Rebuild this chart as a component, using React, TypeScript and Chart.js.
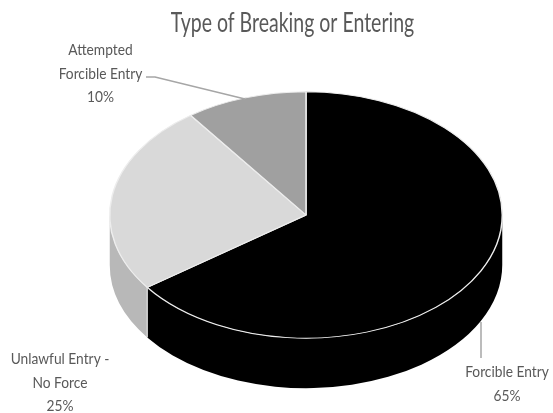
import React, { useEffect, useRef } from "react";
import { Chart, registerables } from "chart.js";

Chart.register(...registerables);

const titleText = "Type of Breaking or Entering";
const categories = ["Forcible Entry", "Unlawful Entry - No Force", "Attempted Forcible Entry"];
const values = [65, 25, 10];
const topColors = ["#000000", "#d9d9d9", "#a0a0a0"];
const sideColors = ["#000000", "#b8b8b8", "#7f7f7f"];

const labelLines = [
  ["Forcible Entry", "65%"],
  ["Unlawful Entry -", "No Force", "25%"],
  ["Attempted", "Forcible Entry", "10%"],
];
const labelAnchors = [
  { x: 507, y: 372 },
  { x: 60, y: 359 },
  { x: 100.5, y: 50 },
];
const leaders: { x: number; y: number }[][] = [
  [{ x: 481, y: 322 }, { x: 481, y: 358 }],
  [],
  [{ x: 146, y: 77 }, { x: 155, y: 77 }, { x: 245, y: 99 }],
];

const SQUASH = 123 / 196;
const DEPTH = 50;
const FONT = "Lato, 'Open Sans', sans-serif";

function squash(chart: any) {
  const arc = chart.getDatasetMeta(0).data[0];
  const { ctx } = chart;
  ctx.translate(arc.x, arc.y);
  ctx.scale(1, SQUASH);
  ctx.translate(-arc.x, -arc.y);
}

function narrowText(ctx: any, text: string, x: number, y: number, ratio: number) {
  ctx.fillText(text, x, y, ctx.measureText(text).width * ratio);
}

const pie3d = {
  id: "pie3d",
  beforeDatasetsDraw(chart: any) {
    const { ctx } = chart;
    const arcs = chart.getDatasetMeta(0).data;
    arcs.forEach((arc: any, i: number) => {
      const rx = arc.outerRadius;
      const ry = rx * SQUASH;
      for (const shift of [0, Math.PI * 2]) {
        const a = Math.max(arc.startAngle + shift, 0);
        const b = Math.min(arc.endAngle + shift, Math.PI);
        if (b <= a) continue;
        ctx.save();
        ctx.beginPath();
        ctx.ellipse(arc.x, arc.y, rx, ry, 0, a, b);
        ctx.ellipse(arc.x, arc.y + DEPTH, rx, ry, 0, b, a, true);
        ctx.closePath();
        ctx.fillStyle = sideColors[i];
        ctx.fill();
        if (i > 0) {
          ctx.strokeStyle = "#f2f2f2";
          ctx.lineWidth = 1;
          ctx.beginPath();
          ctx.moveTo(arc.x + rx * Math.cos(a), arc.y + ry * Math.sin(a));
          ctx.lineTo(arc.x + rx * Math.cos(a), arc.y + ry * Math.sin(a) + DEPTH);
          ctx.stroke();
        }
        ctx.restore();
      }
    });
    ctx.save();
    squash(chart);
  },
  afterDatasetsDraw(chart: any) {
    const { ctx } = chart;
    ctx.restore();
    ctx.save();
    ctx.strokeStyle = "#a6a6a6";
    ctx.lineWidth = 1.5;
    leaders.forEach((pts) => {
      if (!pts.length) return;
      ctx.beginPath();
      pts.forEach((p, i) => (i ? ctx.lineTo(p.x, p.y) : ctx.moveTo(p.x, p.y)));
      ctx.stroke();
    });
    ctx.fillStyle = "#595959";
    ctx.textAlign = "center";
    ctx.textBaseline = "middle";
    ctx.font = `16px ${FONT}`;
    labelLines.forEach((lines, i) => {
      lines.forEach((line, j) => {
        narrowText(ctx, line, labelAnchors[i].x, labelAnchors[i].y + j * 23.5, 0.86);
      });
    });
    ctx.font = `26px ${FONT}`;
    narrowText(ctx, titleText, 292.5, 24, 0.75);
    ctx.restore();
  },
};

export default function App() {
  const ref = useRef<HTMLCanvasElement>(null);
  useEffect(() => {
    const chart = new Chart(ref.current!, {
      type: "pie",
      data: {
        labels: categories,
        datasets: [
          {
            data: values,
            backgroundColor: topColors,
            borderColor: "#ededed",
            borderWidth: 1.5,
          },
        ],
      },
      options: {
        responsive: false,
        animation: false,
        layout: { padding: { left: 109, right: 50, top: 18, bottom: 1 } },
        plugins: { legend: { display: false }, tooltip: { enabled: false }, title: { display: false } },
      },
      plugins: [pie3d],
    } as any);
    return () => chart.destroy();
  }, []);
  return (
    <div style={{ position: "absolute", left: 0, top: 0, width: 553, height: 413, background: "#fff" }}>
      <canvas ref={ref} width={553} height={413} style={{ display: "block" }} />
    </div>
  );
}
